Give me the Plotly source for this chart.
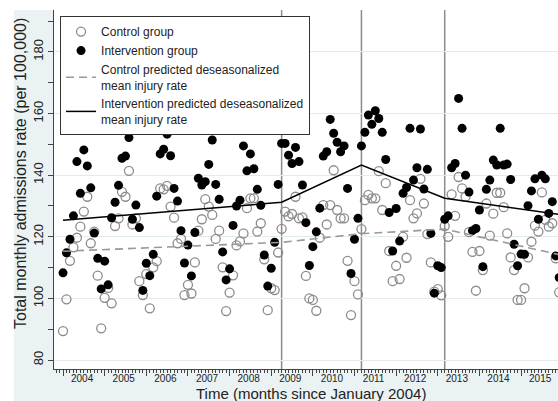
import plotly.graph_objects as go

# ---- data (month index: 0 = January 2004) ----
months = list(range(144))

control_rate = [
    89.4, 99.7, 112.2, 116.6, 119.7, 123.3, 128.2, 133.0, 117.9, 121.7, 107.4, 90.3,
    100.2, 103.4, 98.4, 123.5, 126.0, 134.6, 133.0, 141.4, 124.0, 126.0, 105.6, 101.1,
    107.9, 96.8, 110.1, 112.1, 135.7, 135.4, 136.5, 129.8, 126.2, 117.9, 119.3, 101.1,
    104.4, 101.6, 111.7, 122.0, 125.7, 132.2, 129.8, 127.1, 119.3, 122.0, 110.1, 95.9,
    101.9, 107.5, 117.2, 118.5, 121.1, 129.3, 132.5, 132.5, 121.7, 124.4, 112.7, 96.2,
    103.3, 102.7, 114.9, 122.6, 128.2, 126.6, 127.4, 133.0, 126.0, 126.3, 107.3, 100.0,
    99.5, 96.0, 119.7, 130.3, 124.0, 130.3, 141.6, 128.7, 126.0, 126.0, 112.2, 94.6,
    105.6, 101.3, 122.5, 131.9, 133.6, 132.5, 132.5, 141.3, 128.7, 137.4, 115.4, 105.6,
    110.6, 106.3, 120.0, 113.2, 131.9, 126.0, 127.6, 138.8, 130.8, 120.9, 111.7, 102.2,
    103.0, 101.0, 123.5, 120.0, 133.8, 126.8, 139.4, 135.7, 133.0, 121.5, 115.1, 102.5,
    115.4, 109.2, 130.8, 120.4, 127.5, 134.3, 134.3, 129.6, 121.1, 113.3, 109.2, 99.5,
    99.5, 103.3, 113.3, 118.4, 123.6, 121.7, 134.4, 125.5, 123.3, 124.4, 113.0, 102.0,
]

intervention_rate = [
    108.3, 114.8, 119.2, 126.8, 144.4, 134.1, 148.2, 143.0, 135.9, 121.2, 113.0, 103.1,
    112.1, 104.4, 126.2, 131.2, 136.7, 145.5, 146.2, 152.2, 125.7, 130.3, 123.0, 102.6,
    111.4, 107.4, 114.3, 133.2, 146.9, 148.4, 153.3, 146.3, 135.7, 131.6, 122.0, 111.5,
    117.3, 107.3, 121.4, 139.0, 136.8, 137.9, 143.5, 151.4, 137.0, 132.2, 115.1, 106.0,
    109.6, 123.7, 130.0, 131.9, 149.5, 141.4, 146.9, 142.1, 135.4, 130.2, 114.1, 104.0,
    109.8, 118.2, 137.0, 150.3, 150.3, 146.5, 143.8, 149.0, 144.4, 136.8, 124.6, 110.7,
    116.8, 121.6, 129.3, 146.2, 147.6, 158.1, 153.6, 150.7, 147.6, 149.5, 135.7, 108.1,
    119.2, 126.0, 149.5, 153.9, 159.5, 156.5, 160.9, 158.4, 153.9, 145.1, 127.9, 115.4,
    129.2, 118.6, 134.1, 136.0, 155.2, 138.4, 142.4, 155.0, 135.5, 141.9, 121.1, 101.7,
    110.6, 110.0, 125.7, 126.8, 142.4, 143.8, 164.9, 155.2, 140.0, 134.5, 122.0, 122.7,
    128.7, 110.3, 135.4, 138.4, 144.9, 143.3, 155.2, 143.3, 143.6, 138.6, 117.6, 110.6,
    114.4, 114.3, 130.1, 134.9, 138.8, 125.7, 140.0, 138.8, 127.6, 131.4, 113.8, 106.8,
]

fit_months = [0, 63, 86, 110, 143]
control_fit = [115.3, 118.2, 121.0, 122.5, 114.2]
intervention_fit = [125.4, 131.2, 143.3, 132.5, 127.3]

period_breaks = [63, 86, 110]

year_labels = ["2004", "2005", "2006", "2007", "2008", "2009",
               "2010", "2011", "2012", "2013", "2014", "2015"]
year_label_pos = [5.5 + 12 * i for i in range(len(year_labels))]
year_bounds = [12 * i for i in range(13)]

y_ticks = [80, 100, 120, 140, 160, 180]

FONT = "Liberation Sans, Arial, sans-serif"
AX = "#444444"
GREY = "#8c8c8c"
BG = "#eaf2f3"

fig = go.Figure()

fig.add_trace(go.Scatter(
    x=months, y=control_rate, mode="markers", name="Control group",
    marker=dict(symbol="circle-open", size=9, color=GREY, line=dict(width=1.3, color=GREY)),
))
fig.add_trace(go.Scatter(
    x=months, y=intervention_rate, mode="markers", name="Intervention group",
    marker=dict(symbol="circle", size=9, color="black"),
))
fig.add_trace(go.Scatter(
    x=fit_months, y=control_fit, mode="lines",
    name="Control predicted deseasonalized<br>mean injury rate",
    line=dict(color="#999999", width=1.6, dash="8px,5px"),
))
fig.add_trace(go.Scatter(
    x=fit_months, y=intervention_fit, mode="lines",
    name="Intervention predicted deseasonalized<br>mean injury rate",
    line=dict(color="black", width=1.5),
))
# helper trace for the year-boundary tick axis
fig.add_trace(go.Scatter(x=[None], y=[None], xaxis="x2", showlegend=False,
                         hoverinfo="skip"))

shapes = []
for b in period_breaks:
    shapes.append(dict(type="line", xref="x", yref="paper", x0=b, x1=b, y0=0, y1=1,
                       line=dict(color=GREY, width=1.5), layer="below"))
# outer (graph-region) tint, left and bottom strips
pw, ph = 504.0, 359.0
shapes.append(dict(type="rect", xref="paper", yref="paper", x0=(14 - 54) / pw, x1=0,
                   y0=(369 - 401) / ph, y1=1, fillcolor=BG, line=dict(width=0), layer="below"))
shapes.append(dict(type="rect", xref="paper", yref="paper", x0=0, x1=1,
                   y0=(369 - 401) / ph, y1=0, fillcolor=BG, line=dict(width=0), layer="below"))

xr = [-2.6, 142.65]
fig.update_layout(
    width=558, height=401,
    margin=dict(l=54, r=0, t=10, b=32, autoexpand=False),
    paper_bgcolor="white", plot_bgcolor="white",
    font=dict(family=FONT, color="#222222"),
    shapes=shapes,
    showlegend=True,
    legend=dict(x=0.012, y=0.983, xanchor="left", yanchor="top",
                bgcolor="white", bordercolor="#333333", borderwidth=1,
                font=dict(size=12, family=FONT, color="#222222"),
                tracegroupgap=0, itemwidth=30),
    xaxis=dict(range=xr, automargin=False, showgrid=False, zeroline=False, showline=True,
               linecolor=AX, linewidth=1, tickmode="array", tickvals=year_label_pos,
               ticktext=year_labels, ticks="", tickfont=dict(size=10, color="#222222"),
               minor=dict(ticks="outside", tickmode="linear", tick0=0, dtick=1,
                          ticklen=3, tickcolor=AX, showgrid=False)),
    xaxis2=dict(range=xr, automargin=False, overlaying="x", anchor="y", side="bottom",
                showgrid=False, zeroline=False, showline=False, tickmode="array",
                tickvals=year_bounds, showticklabels=False, ticks="outside", ticklen=6,
                tickcolor=AX),
    yaxis=dict(range=[77.1, 193.6], automargin=False, tickmode="array", tickvals=y_ticks,
               ticks="outside", ticklen=5, tickcolor=AX, tickangle=-90,
               tickfont=dict(size=13, color="#222222"),
               showgrid=True, gridcolor="#e2ebed", gridwidth=1, zeroline=False,
               showline=True, linecolor=AX, linewidth=1,
               minor=dict(ticks="outside", tickmode="linear", tick0=80, dtick=10,
                          ticklen=5, tickcolor=AX, showgrid=False)),
    annotations=[
        dict(text="Total monthly admissions rate (per 100,000)", xref="paper", yref="paper",
             x=(20 - 54) / pw, y=(369 - 174) / ph, textangle=-90, showarrow=False,
             xanchor="center", yanchor="middle", font=dict(size=16, family=FONT, color="#222222")),
        dict(text="Time (months since January 2004)", xref="paper", yref="paper",
             x=(311 - 54) / pw, y=(369 - 383) / ph, showarrow=False,
             xanchor="center", yanchor="top", font=dict(size=15, family=FONT, color="#222222")),
    ],
)

fig.write_html("out.html", config={"displayModeBar": False},
               post_script="document.body.style.margin='0';document.body.style.overflow='hidden';")
